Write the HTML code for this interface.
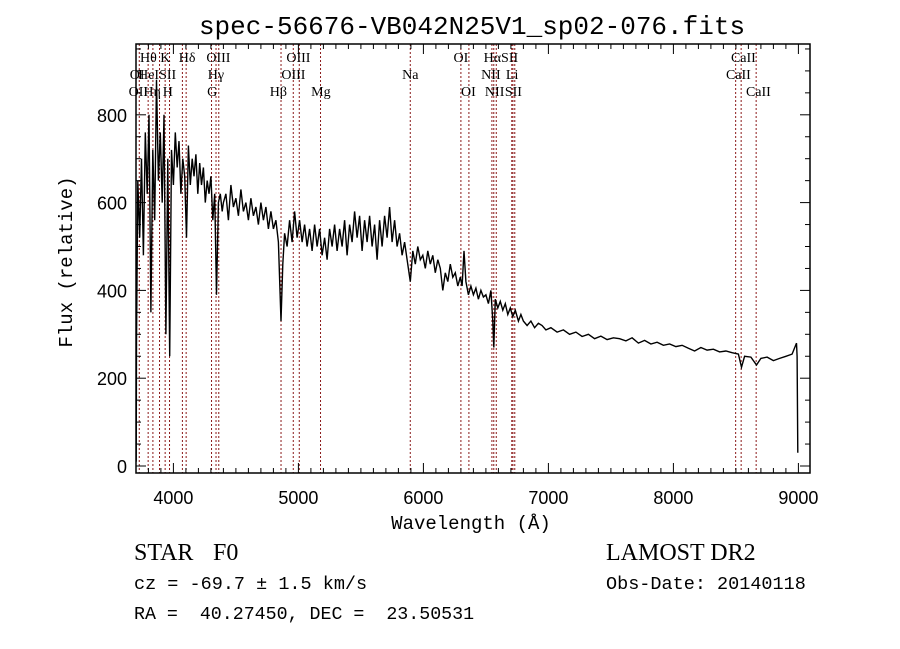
<!DOCTYPE html>
<html><head><meta charset="utf-8"><style>
body{margin:0;background:#fff;}
svg{display:block;}
text{fill:#000;}
</style></head><body>
<svg id="chart" width="900" height="649" viewBox="0 0 900 649" xmlns="http://www.w3.org/2000/svg">
<rect width="900" height="649" fill="#fff"/>
<text x="472" y="34" font-family="Liberation Mono, monospace" font-size="26" text-anchor="middle">spec-56676-VB042N25V1_sp02-076.fits</text>
<g id="lines"></g>
<g id="spec"></g>
<g id="axes"></g>
<text x="471" y="529" font-family="Liberation Mono, monospace" font-size="19" text-anchor="middle">Wavelength (Å)</text>
<text transform="translate(72,262) rotate(-90)" font-family="Liberation Mono, monospace" font-size="19" text-anchor="middle">Flux (relative)</text>
<text x="134" y="560" font-family="Liberation Serif, serif" font-size="24">STAR</text>
<text x="213" y="560" font-family="Liberation Serif, serif" font-size="24">F0</text>
<text x="606" y="560" font-family="Liberation Serif, serif" font-size="24">LAMOST DR2</text>
<text x="134" y="589" font-family="Liberation Mono, monospace" font-size="18.5" xml:space="preserve">cz = -69.7 ± 1.5 km/s</text>
<text x="606" y="589" font-family="Liberation Mono, monospace" font-size="18.5">Obs-Date: 20140118</text>
<text x="134" y="619" font-family="Liberation Mono, monospace" font-size="18.3" xml:space="preserve">RA =  40.27450, DEC =  23.50531</text>
</svg>
<script>
const waves=[3702,3705,3715,3730,3745,3760,3775,3790,3805,3820,3835,3850,3865,3880,3895,3910,3925,3940,3955,3970,3985,4000,4015,4030,4045,4060,4075,4090,4105,4120,4135,4150,4165,4180,4195,4210,4225,4240,4255,4270,4285,4300,4315,4330,4345,4360,4375,4390,
4400,4420,4440,4460,4480,4500,4520,4540,4560,4580,4600,4620,4640,4660,4680,4700,4720,4740,4760,4780,4800,4820,4840,4861,4875,4890,4910,4930,4950,4970,4990,5010,5030,5050,5070,5090,5110,5130,5150,5170,5190,5210,5230,5250,5270,5290,5310,5330,5350,5370,5390,5410,5430,5450,5470,5490,5510,5530,5550,5570,5590,5610,5630,5650,5670,5690,5710,5730,5750,5770,5790,5810,5830,5850,5870,5895,5915,5935,5955,5975,5995,6015,6035,6055,6075,6095,6115,6135,6155,6175,6195,6215,6235,6255,6275,6295,6310,6325,6340,6360,6380,6400,6420,6440,6460,6480,6500,6520,6540,6555,6563,6575,6595,6615,6635,6655,6675,6695,6715,6735,6760,6780,6800,6830,6860,6890,6920,6950,6980,
7020,7070,7120,7170,7220,7270,7320,7370,7420,7470,7520,7570,7620,7670,7720,7770,7820,7870,7920,7970,8020,8070,8120,8170,8220,8270,8320,8370,8420,8470,8520,8545,8570,8620,8665,8700,8750,8800,8850,8900,8950,8985,8990,8995];
const flux=[10,280,650,520,700,480,760,620,800,350,720,560,880,650,760,600,800,300,700,250,720,640,760,680,740,620,700,660,520,730,640,700,660,710,620,690,640,680,600,650,620,660,560,620,390,600,620,580,
600,620,560,640,590,610,570,630,580,600,560,610,570,590,550,600,560,590,540,580,540,560,510,330,460,530,500,560,510,580,520,560,510,550,500,540,490,550,500,540,480,520,470,540,500,550,490,540,500,560,480,550,510,580,520,570,490,560,510,570,500,550,470,560,500,570,520,590,510,560,500,530,480,510,470,420,490,460,500,470,480,450,490,460,480,440,470,450,400,440,420,460,430,440,410,430,410,490,420,390,410,390,405,380,400,385,390,370,400,330,270,380,360,375,355,370,345,360,340,355,330,345,330,320,330,315,325,320,310,
315,305,310,300,305,295,300,290,296,288,292,290,285,292,280,286,278,282,275,278,272,275,268,262,270,264,266,260,262,258,255,225,250,248,230,245,248,240,245,250,255,280,250,30];
const lineWaves=[3727,3798,3836,3889,3934,3969,4072,4102,4305,4341,4363,4861,4959,5007,5177,5895,6300,6364,6548,6563,6583,6707,6716,6731,8498,8542,8662];
const labelText=["Hθ","K","Hδ","OIII","OIII","OI","HαSII","CaII","OI","HeISII","Hγ","OIII","Na","NII","Li","CaII","OII","Hη","H","G","Hβ","Mg","OI","NII","SII","CaII"];
const labelWave=[3800,3935,4110,4360,5000,6300,6620,8560,3710,3870,4340,4960,5895,6540,6710,8520,3720,3830,3955,4310,4840,5180,6360,6570,6720,8680];
const labelRow=[0,0,0,0,0,0,0,0,1,1,1,1,1,1,1,1,2,2,2,2,2,2,2,2,2,2];
const xTicks=[4000,5000,6000,7000,8000,9000];
const yTicks=[0,200,400,600,800];
const NS="http://www.w3.org/2000/svg";
const L=136,R=810,T=44,B=473;
const X=w=>173.4+(w-4000)*0.125;
const Y=f=>466-f*0.439;
function mk(tag,attrs,parent){const e=document.createElementNS(NS,tag);for(const k in attrs)e.setAttribute(k,attrs[k]);parent.appendChild(e);return e;}
const lines=document.getElementById('lines');
lineWaves.forEach(w=>{const l=mk('line',{x1:X(w),x2:X(w),y1:T,y2:B,stroke:'#8b1a1a','stroke-width':1,'stroke-dasharray':'2,2'},lines);

});
labelText.forEach((t,i)=>{const e=mk('text',{x:X(labelWave[i]),y:62+labelRow[i]*17,'font-family':'Liberation Serif, serif','font-size':14,'text-anchor':'middle'},lines);e.textContent=t;

});
const spec=document.getElementById('spec');
let d='';waves.forEach((w,i)=>{d+=(i?'L':'M')+X(w).toFixed(1)+','+Y(flux[i]).toFixed(1);});
const p=mk('path',{d:d,fill:'none',stroke:'#000','stroke-width':1.4,'stroke-linejoin':'miter'},spec);


const ax=document.getElementById('axes');
const fr=mk('rect',{x:L,y:T,width:R-L,height:B-T,fill:'none',stroke:'#000','stroke-width':1.5},ax);


for(let w=3800;w<=9000;w+=100){const x=X(w);const len=(w%1000===0)?10:5;
mk('line',{x1:x,x2:x,y1:B,y2:B-len,stroke:'#000'},ax);mk('line',{x1:x,x2:x,y1:T,y2:T+len,stroke:'#000'},ax);}
for(let f=0;f<=950;f+=50){const y=Y(f);const len=(f%200===0)?10:5;
mk('line',{x1:L,x2:L+len,y1:y,y2:y,stroke:'#000'},ax);mk('line',{x1:R,x2:R-len,y1:y,y2:y,stroke:'#000'},ax);}
xTicks.forEach(v=>{const e=mk('text',{x:X(v),y:504,'font-family':'Liberation Sans, sans-serif','font-size':18,'text-anchor':'middle'},ax);e.textContent=v;

});
yTicks.forEach(v=>{const e=mk('text',{x:127,y:Y(v)+7,'font-family':'Liberation Sans, sans-serif','font-size':18,'text-anchor':'end'},ax);e.textContent=v;

});
</script>
</body></html>
